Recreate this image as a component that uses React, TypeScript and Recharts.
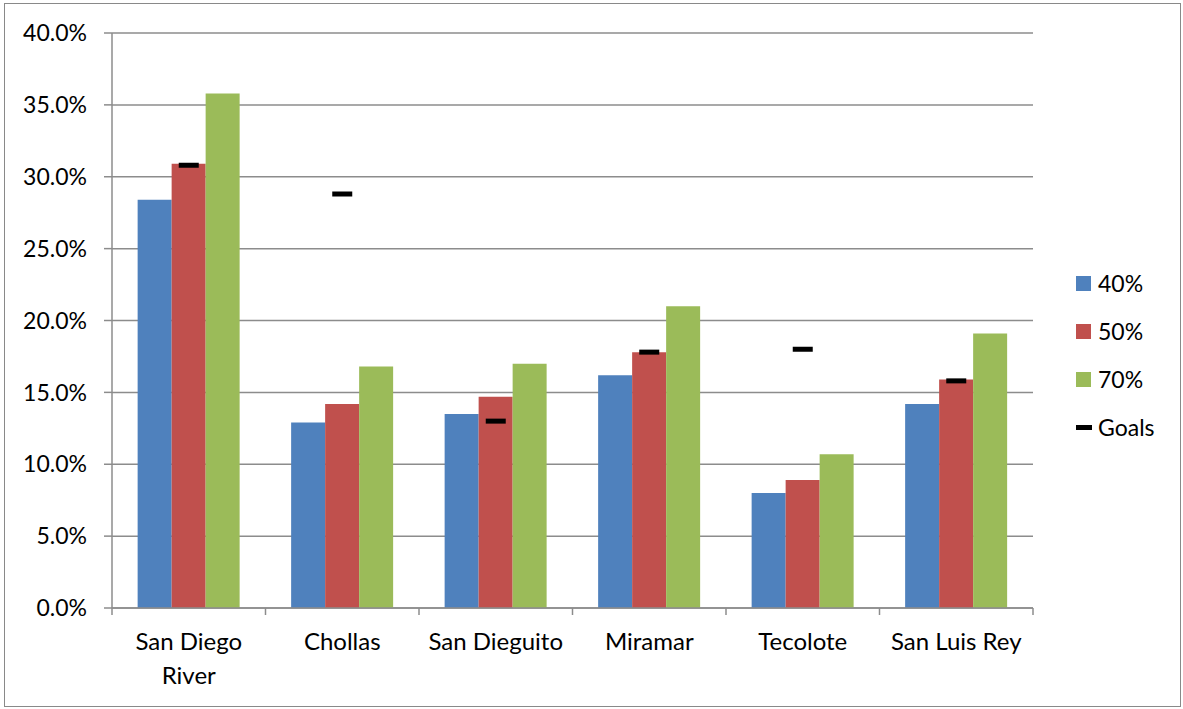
import React from "react";
import { ComposedChart, Bar, Line, XAxis, YAxis, CartesianGrid } from "recharts";

const categories = ["San Diego River", "Chollas", "San Dieguito", "Miramar", "Tecolote", "San Luis Rey"];
const s40 = [28.4, 12.9, 13.5, 16.2, 8.0, 14.2];
const s50 = [30.9, 14.2, 14.7, 17.8, 8.9, 15.9];
const s70 = [35.8, 16.8, 17.0, 21.0, 10.7, 19.1];
const goals = [30.8, 28.8, 13.0, 17.8, 18.0, 15.8];
const yTicks = [0, 5, 10, 15, 20, 25, 30, 35, 40];
const seriesNames = ["40%", "50%", "70%", "Goals"];
const colors = ["#4F81BD", "#C0504D", "#9BBB59", "#000000"];

const data = categories.map((c, i) => ({ name: c, a: s40[i], b: s50[i], c: s70[i], goal: goals[i] }));

const FONT = "Lato, 'Open Sans', sans-serif";
const GRID = "#8c8c8c";

const wrapWords: Record<string, string[]> = { "San Diego River": ["San Diego", "River"] };

const XTick = (props: any) => {
  const { x, y, payload, index } = props;
  const half = payload && payload.offset ? payload.offset : 76.75;
  const lines = wrapWords[payload.value] || [payload.value];
  return (
    <g>
      <line x1={x - half} x2={x - half} y1={y} y2={y + 7} stroke={GRID} strokeWidth={1.5} />
      {index === categories.length - 1 && (
        <line x1={x + half} x2={x + half} y1={y} y2={y + 7} stroke={GRID} strokeWidth={1.5} />
      )}
      {lines.map((l, i) => (
        <text key={i} x={x} y={y + 42 + i * 34} textAnchor="middle" fontFamily={FONT} fontSize={24} fill="#000">
          {l}
        </text>
      ))}
    </g>
  );
};

const GoalDot = (props: any) => {
  const { cx, cy } = props;
  if (cx == null || cy == null) return null;
  return <rect x={cx - 10} y={cy - 2.5} width={20} height={5} fill="#000" />;
};

export default function App() {
  return (
    <div style={{ position: "absolute", left: 0, top: 0, width: 1183, height: 709, background: "#fff" }}>
      <div style={{ position: "absolute", left: 4, top: 3, width: 1175, height: 702, border: "1px solid #898989" }} />
      <ComposedChart
        width={1183}
        height={709}
        data={data}
        margin={{ top: 33, right: 150, bottom: 0, left: 0 }}
        barCategoryGap="16.7%"
        barGap={0}
      >
        <CartesianGrid vertical={false} stroke={GRID} strokeWidth={1.5} />
        <XAxis
          dataKey="name"
          height={101}
          interval={0}
          tickLine={false}
          tickSize={0}
          tickMargin={0}
          axisLine={{ stroke: GRID, strokeWidth: 1.5 }}
          tick={<XTick />}
        />
        <YAxis
          width={112}
          domain={[0, 40]}
          ticks={yTicks}
          interval={0}
          tickSize={8}
          tickMargin={17}
          tickLine={{ stroke: GRID, strokeWidth: 1.5 }}
          axisLine={{ stroke: GRID, strokeWidth: 1.5 }}
          tickFormatter={(v: number) => v.toFixed(1) + "%"}
          tick={{ fill: "#000", fontFamily: FONT, fontSize: 23 }}
        />
        <Bar dataKey="a" name={seriesNames[0]} fill={colors[0]} isAnimationActive={false} />
        <Bar dataKey="b" name={seriesNames[1]} fill={colors[1]} isAnimationActive={false} />
        <Bar dataKey="c" name={seriesNames[2]} fill={colors[2]} isAnimationActive={false} />
        <Line
          dataKey="goal"
          name={seriesNames[3]}
          stroke="none"
          dot={<GoalDot />}
          activeDot={false}
          isAnimationActive={false}
        />
      </ComposedChart>
      {seriesNames.map((n, i) => (
        <div
          key={n}
          style={{
            position: "absolute",
            left: 1076,
            top: 283 + i * 48 - 14,
            height: 28,
            display: "flex",
            alignItems: "center",
            fontFamily: FONT,
            fontSize: 23,
            color: "#000",
          }}
        >
          {i < 3 ? (
            <div style={{ width: 15, height: 15, background: colors[i], marginRight: 7 }} />
          ) : (
            <div style={{ width: 16, height: 5, background: "#000", marginRight: 6 }} />
          )}
          <span>{n}</span>
        </div>
      ))}
    </div>
  );
}
